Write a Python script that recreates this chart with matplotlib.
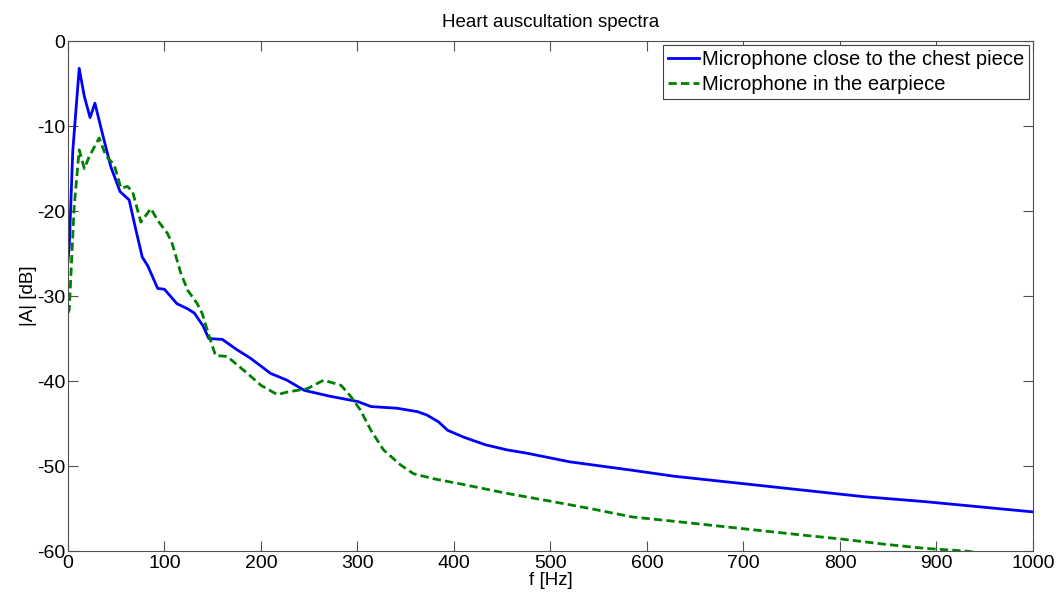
import matplotlib
matplotlib.use("Agg")
import matplotlib.pyplot as plt

plt.rcParams['font.family'] = ['Liberation Sans', 'DejaVu Sans']
plt.rcParams['axes.unicode_minus'] = False

f_chest = [0, 1.4, 5, 11.7, 17, 23, 28, 36, 44.5, 54, 63.5, 68.6, 77, 83, 93, 100, 113, 124,
           131, 140, 146, 160, 175, 189, 210, 227, 245, 272, 300, 314, 341, 362, 372, 384,
           393.5, 410, 432.6, 455, 476, 519.6, 584.8, 628, 693.5, 758.7, 824, 889, 1000]
db_chest = [-26, -24.2, -13, -3.2, -6.5, -9.0, -7.3, -11, -14.8, -17.7, -18.7, -21.3, -25.4,
            -26.5, -29.1, -29.2, -30.9, -31.5, -32, -33.5, -35, -35.1, -36.3, -37.3, -39.1,
            -39.9, -41.1, -41.8, -42.4, -43.0, -43.2, -43.6, -44.0, -44.8, -45.8, -46.6,
            -47.5, -48.1, -48.5, -49.5, -50.5, -51.2, -52.0, -52.8, -53.6, -54.2, -55.4]

f_ear = [0, 1.4, 6.5, 11.7, 17, 22, 32.4, 39, 48, 55, 61.7, 67, 75.6, 86, 93, 103, 108, 117,
         124, 134, 139, 146, 153, 165, 186, 200, 217, 227, 248, 265, 283, 293, 303, 314, 327,
         345, 358, 379, 411, 454, 498, 541, 585, 628, 693.5, 759, 802, 846, 889, 930, 1000]
db_ear = [-32, -31.6, -19.5, -12.8, -15, -13.6, -11.4, -13.4, -14.6, -17.3, -17.1, -17.7,
          -21.3, -19.7, -21.1, -22.6, -23.8, -27.3, -29.3, -30.9, -32, -34.6, -37, -37.1,
          -39.1, -40.5, -41.6, -41.3, -40.9, -39.9, -40.5, -41.8, -43.4, -45.8, -48.1, -49.9,
          -50.9, -51.5, -52.2, -53.2, -54.1, -55.0, -56.0, -56.5, -57.3, -58.1, -58.6, -59.2,
          -59.7, -60.0, -61.0]

labels = ["Microphone close to the chest piece", "Microphone in the earpiece"]
xticks = list(range(0, 1001, 100))
yticks = list(range(-60, 1, 10))

fig = plt.figure(figsize=(10.61, 5.96), dpi=100)
ax = fig.add_axes([0.064, 0.0755, 0.9096, 0.8555])

ax.plot(f_chest, db_chest, color=(0, 0, 1), lw=2, label=labels[0])
ax.plot(f_ear, db_ear, color=(0, 0.5, 0), lw=2, dashes=(3, 1.5), label=labels[1])

ax.set_xlim(0, 1000)
ax.set_ylim(-60, 0)
ax.set_xticks(xticks)
ax.set_yticks(yticks)
ax.tick_params(direction='in', top=True, right=True, labelsize=14, length=7,
               color='#505050', pad=2)
ax.tick_params(axis='x', pad=3)
for s in ax.spines.values():
    s.set_color('#505050')
    s.set_linewidth(0.8)

ax.set_xlabel("f [Hz]", fontsize=13.5, labelpad=0)
ax.set_ylabel("|A| [dB]", fontsize=13.5, labelpad=0)
ax.set_title("Heart auscultation spectra", fontsize=13.5, pad=10)

leg = ax.legend(loc='upper right', fontsize=14.5, fancybox=False, framealpha=1,
                edgecolor='#404040', handlelength=1.5, handletextpad=0.15,
                borderpad=0.25, labelspacing=0.3, borderaxespad=0.2)
leg.get_frame().set_linewidth(0.8)

fig.savefig("out.png", dpi=100)
